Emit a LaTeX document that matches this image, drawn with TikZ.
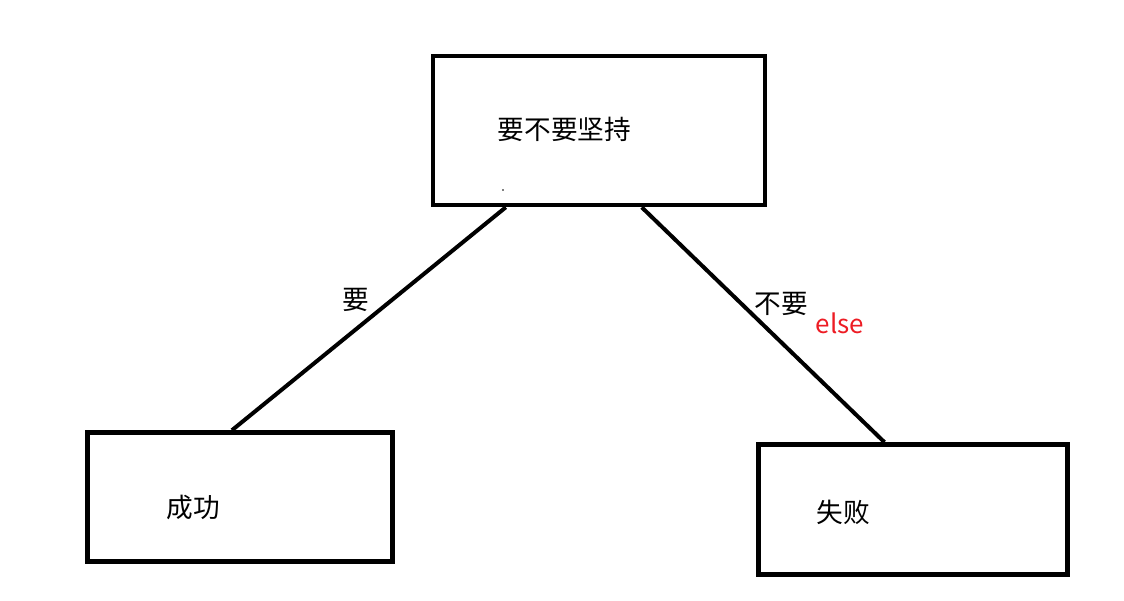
\documentclass[tikz,border=0pt]{standalone}
\usepackage{fontspec}
\setmainfont{Noto Sans CJK SC}
\usetikzlibrary{calc}
\definecolor{elsered}{RGB}{237, 28, 36}
\tikzset{
  every box/.style={
    draw=black,
    line width=3.4pt,
    fill=white,
    inner sep=0pt
  },
  box text/.style={
    inner sep=0pt,
    font=\fontsize{20pt}{24pt}\selectfont
  },
  every link/.style={
    draw=black,
    line width=3pt
  }
}
\begin{document}
\begin{tikzpicture}[x=0.75pt, y=-0.75pt]
  \useasboundingbox (0, 0) rectangle (1124, 600);
  \node[every box, minimum width=249pt, minimum height=111.75pt] (keep) at (599, 130.5) {};
  \node[every box, minimum width=228.75pt, minimum height=96.75pt] (win) at (240, 497) {};
  \node[every box, minimum width=231.75pt, minimum height=97.5pt] (lose) at (913, 509.5) {};

  \node[box text] (keep-txt) at (564.5, 129.5) {要不要坚持};
  \node[box text] (win-txt) at (193, 507.5) {成功};
  \node[box text] (lose-txt) at (843, 512) {失败};
  \fill (503, 190) circle (0.6pt);

  \draw[every link] ($(keep.south west)!0.223!(keep.south east)$) -- ($(win.north west)!0.474!(win.north east)$);
  \draw[every link] ($(keep.south west)!0.627!(keep.south east)$) -- ($(lose.north west)!0.409!(lose.north east)$);

  \node[box text] (yes) at (356, 300) {要};
  \node[box text] (no) at (781, 303.5) {不要};
  \node[box text, text=elsered, font=\fontsize{19.5pt}{23pt}\selectfont] (else) at (840, 323) {else};
\end{tikzpicture}
\end{document}
